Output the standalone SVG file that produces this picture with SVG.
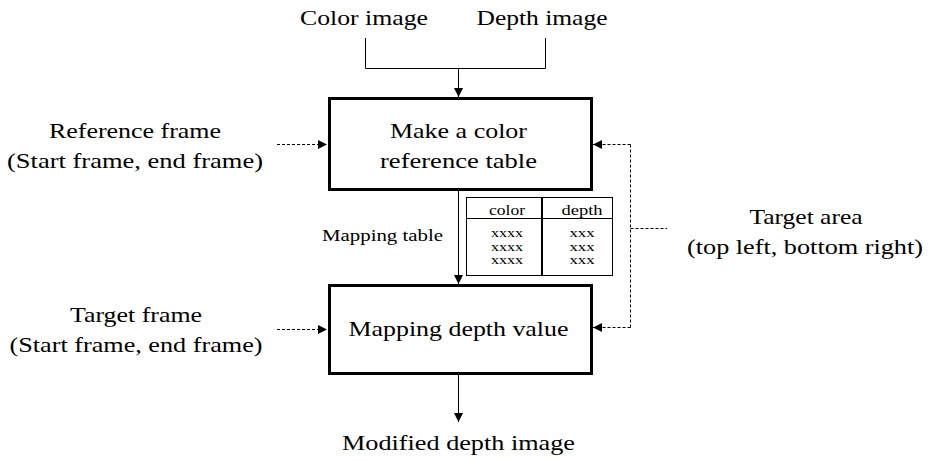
<svg xmlns="http://www.w3.org/2000/svg" width="928" height="461" viewBox="0 0 928 461">
<defs>
<marker id="ah" viewBox="0 0 10 10" refX="10" refY="5" markerWidth="9" markerHeight="9" markerUnits="userSpaceOnUse" orient="auto">
<path d="M0,0 L10,5 L0,10 z" fill="#000"/>
</marker>
</defs>
<style>
text{font-family:Liberation Serif,serif;fill:#000}
.t{font-size:22px}
.s{font-size:16px}
.x{font-size:13px}
.box{fill:#fff;stroke:#000;stroke-width:3}
.ln{fill:none;stroke:#000;stroke-width:1}
.dash{fill:none;stroke:#000;stroke-width:1;stroke-dasharray:3,2}
</style>
<rect width="928" height="461" fill="#fff"/>
<g id="connectors">
<path class="ln" d="M365.5,38 V68.5 H545.5 V38"/>
<line class="ln" x1="458.5" y1="68.5" x2="458.5" y2="97" marker-end="url(#ah)"/>
<line class="ln" x1="458.5" y1="191" x2="458.5" y2="284" marker-end="url(#ah)"/>
<line class="ln" x1="458.5" y1="375" x2="458.5" y2="422" marker-end="url(#ah)"/>
<line class="dash" x1="277" y1="144.5" x2="327" y2="144.5" marker-end="url(#ah)"/>
<line class="dash" x1="277" y1="329.5" x2="327" y2="329.5" marker-end="url(#ah)"/>
<path class="dash" d="M630.5,144.5 V327.5"/>
<line class="dash" x1="630.5" y1="144.5" x2="593" y2="144.5" marker-end="url(#ah)"/>
<line class="dash" x1="630.5" y1="327.5" x2="593" y2="327.5" marker-end="url(#ah)"/>
<line class="dash" x1="630.5" y1="228.5" x2="667" y2="228.5"/>
</g>
<g id="color-image"><text class="t" x="364" y="25" text-anchor="middle" textLength="128" lengthAdjust="spacingAndGlyphs">Color image</text></g>
<g id="depth-image"><text class="t" x="542" y="25" text-anchor="middle" textLength="131" lengthAdjust="spacingAndGlyphs">Depth image</text></g>
<g id="make-table">
<rect class="box" x="329.5" y="98.5" width="262" height="91"/>
<text class="t" x="458.5" y="138" text-anchor="middle" textLength="137" lengthAdjust="spacingAndGlyphs">Make a color</text>
<text class="t" x="458.5" y="168" text-anchor="middle" textLength="157" lengthAdjust="spacingAndGlyphs">reference table</text>
</g>
<g id="reference-frame">
<text class="t" x="135" y="138" text-anchor="middle" textLength="172" lengthAdjust="spacingAndGlyphs">Reference frame</text>
<text class="t" x="135" y="168" text-anchor="middle" textLength="256" lengthAdjust="spacingAndGlyphs">(Start frame, end frame)</text>
</g>
<g id="mapping-table-label"><text class="s" x="322" y="241" textLength="121" lengthAdjust="spacingAndGlyphs">Mapping table</text></g>
<g id="table">
<rect x="466.5" y="197.5" width="146" height="78" fill="#fff" stroke="#000" stroke-width="1"/>
<line x1="466.5" y1="218.5" x2="612.5" y2="218.5" stroke="#000" stroke-width="1"/>
<line x1="542" y1="197.5" x2="542" y2="275.5" stroke="#000" stroke-width="2"/>
<text x="507" y="215" text-anchor="middle" textLength="36" lengthAdjust="spacingAndGlyphs" font-size="15">color</text>
<text x="582" y="215" text-anchor="middle" textLength="41" lengthAdjust="spacingAndGlyphs" font-size="15">depth</text>
<text class="x" x="507" y="237" text-anchor="middle" textLength="32" lengthAdjust="spacingAndGlyphs">xxxx</text>
<text class="x" x="507" y="250.5" text-anchor="middle" textLength="32" lengthAdjust="spacingAndGlyphs">xxxx</text>
<text class="x" x="507" y="264" text-anchor="middle" textLength="32" lengthAdjust="spacingAndGlyphs">xxxx</text>
<text class="x" x="582" y="237" text-anchor="middle" textLength="25" lengthAdjust="spacingAndGlyphs">xxx</text>
<text class="x" x="582" y="250.5" text-anchor="middle" textLength="25" lengthAdjust="spacingAndGlyphs">xxx</text>
<text class="x" x="582" y="264" text-anchor="middle" textLength="25" lengthAdjust="spacingAndGlyphs">xxx</text>
</g>
<g id="target-area">
<text class="t" x="806" y="224" text-anchor="middle" textLength="113" lengthAdjust="spacingAndGlyphs">Target area</text>
<text class="t" x="805" y="254" text-anchor="middle" textLength="236" lengthAdjust="spacingAndGlyphs">(top left, bottom right)</text>
</g>
<g id="mapping-depth">
<rect class="box" x="329.5" y="285.5" width="262" height="88"/>
<text class="t" x="458.5" y="336" text-anchor="middle" textLength="220" lengthAdjust="spacingAndGlyphs">Mapping depth value</text>
</g>
<g id="target-frame">
<text class="t" x="136" y="322" text-anchor="middle" textLength="132" lengthAdjust="spacingAndGlyphs">Target frame</text>
<text class="t" x="136" y="352" text-anchor="middle" textLength="253" lengthAdjust="spacingAndGlyphs">(Start frame, end frame)</text>
</g>
<g id="modified-depth"><text class="t" x="458.5" y="450" text-anchor="middle" textLength="233" lengthAdjust="spacingAndGlyphs">Modified depth image</text></g>
</svg>
